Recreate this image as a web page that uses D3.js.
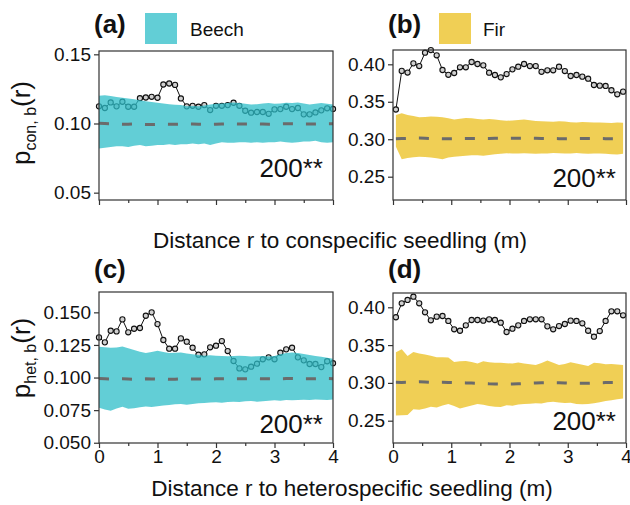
<!DOCTYPE html>
<html><head><meta charset="utf-8">
<script src="https://cdn.jsdelivr.net/npm/d3@7"></script>
<style>body{margin:0;background:#fff;}svg{display:block;font-family:"Liberation Sans",Arial,sans-serif;}</style>
</head><body>
<svg id="chart" width="630" height="505"></svg>
<script>
// ---------- data ----------
const distLeft = [0,0.1,0.2,0.3,0.4,0.5,0.6,0.7,0.8,0.9,1.0,1.1,1.2,1.3,1.4,1.5,1.6,1.7,1.8,1.9,2.0,2.1,2.2,2.3,2.4,2.5,2.6,2.7,2.8,2.9,3.0,3.1,3.2,3.3,3.4,3.5,3.6,3.7,3.8,3.9,4.0];
const distRight = [0.05,0.15,0.25,0.35,0.45,0.55,0.65,0.75,0.85,0.95,1.05,1.15,1.25,1.35,1.45,1.55,1.65,1.75,1.85,1.95,2.05,2.15,2.25,2.35,2.45,2.55,2.65,2.75,2.85,2.95,3.05,3.15,3.25,3.35,3.45,3.55,3.65,3.75,3.85,3.95];

// (a) Beech, conspecific
const beechConObs = [0.1124,0.1112,0.1152,0.1124,0.1157,0.1121,0.1121,0.1183,0.1188,0.1193,0.1186,0.1282,0.1289,0.1279,0.1181,0.1124,0.1128,0.1121,0.1133,0.1097,0.1128,0.1128,0.1133,0.115,0.1128,0.1092,0.1078,0.1083,0.1083,0.107,0.1102,0.1104,0.1121,0.1104,0.1112,0.1066,0.1066,0.108,0.1095,0.111,0.1105];
const beechConHi = [0.1200,0.1205,0.1198,0.1192,0.1186,0.118,0.1175,0.1168,0.116,0.1155,0.115,0.1145,0.114,0.1136,0.1133,0.1125,0.1127,0.1125,0.113,0.1138,0.1142,0.1145,0.1148,0.1152,0.1148,0.1142,0.1138,0.114,0.1145,0.1148,0.1142,0.1145,0.115,0.1148,0.1152,0.1145,0.1138,0.1142,0.1148,0.1142,0.1138];
const beechConLo = [0.082,0.0825,0.083,0.0835,0.0835,0.083,0.084,0.0845,0.0835,0.084,0.0845,0.0845,0.085,0.0845,0.085,0.085,0.0855,0.085,0.0855,0.0845,0.0855,0.0865,0.086,0.086,0.0865,0.0865,0.086,0.0865,0.086,0.0865,0.0865,0.087,0.0865,0.086,0.0865,0.087,0.087,0.0875,0.0865,0.086,0.0865];
const beechConMean = [0.1002,0.1,0.0998,0.0996,0.0995,0.0995,0.0996,0.0994,0.0993,0.0993,0.0994,0.0995,0.0994,0.0994,0.0995,0.0996,0.0996,0.0995,0.0994,0.0994,0.0995,0.0996,0.0997,0.0997,0.0996,0.0996,0.0997,0.0997,0.0996,0.0995,0.0996,0.0997,0.0998,0.0998,0.0997,0.0996,0.0996,0.0997,0.0998,0.0998,0.0998];

// (b) Fir, conspecific
const firConObs = [0.3397,0.3912,0.389,0.4013,0.3977,0.4155,0.419,0.412,0.3924,0.386,0.3884,0.396,0.396,0.4031,0.4004,0.3986,0.3888,0.3857,0.3826,0.387,0.3933,0.3968,0.4004,0.3977,0.3977,0.39,0.392,0.392,0.3968,0.391,0.3844,0.3857,0.3835,0.3808,0.3724,0.3715,0.3711,0.3654,0.36,0.3635];
const firConHi = [0.3323,0.3346,0.3325,0.331,0.3292,0.3298,0.3305,0.33,0.3295,0.328,0.3265,0.3275,0.3285,0.328,0.327,0.3265,0.327,0.3262,0.3255,0.3247,0.325,0.3258,0.3262,0.3255,0.3245,0.324,0.3236,0.3234,0.324,0.3238,0.3228,0.3225,0.323,0.3228,0.3225,0.3222,0.322,0.3218,0.3222,0.322];
const firConLo = [0.290,0.2732,0.2748,0.276,0.2767,0.2762,0.2755,0.2745,0.2732,0.2755,0.2765,0.2772,0.2778,0.2785,0.2785,0.278,0.279,0.2798,0.2805,0.2812,0.281,0.2808,0.2812,0.281,0.2805,0.2808,0.281,0.2815,0.2812,0.2808,0.281,0.2815,0.281,0.2805,0.2808,0.281,0.2805,0.2798,0.2795,0.2805];
const firConMean = [0.3008,0.301,0.3012,0.3015,0.3015,0.3013,0.301,0.3008,0.3007,0.3006,0.3007,0.3008,0.3009,0.301,0.301,0.301,0.3011,0.3012,0.3012,0.3012,0.3013,0.3014,0.3014,0.3013,0.3012,0.3011,0.301,0.3009,0.3008,0.3008,0.3008,0.3009,0.301,0.301,0.301,0.3009,0.3008,0.3007,0.3005,0.3004];

// (c) Beech, heterospecific
const beechHetObs = [0.1308,0.127,0.1359,0.1354,0.1446,0.1347,0.1374,0.138,0.1474,0.150,0.141,0.1288,0.1221,0.1221,0.130,0.1275,0.1229,0.1175,0.1178,0.1232,0.1244,0.128,0.1203,0.1127,0.107,0.1063,0.1083,0.1106,0.114,0.1155,0.114,0.119,0.1216,0.1229,0.1155,0.1132,0.1104,0.1104,0.108,0.1125,0.111];
const beechHetHi = [0.1236,0.1232,0.1228,0.123,0.1238,0.1225,0.1212,0.1198,0.1188,0.1195,0.1205,0.1195,0.1188,0.119,0.1192,0.1185,0.1178,0.1172,0.1168,0.117,0.1168,0.1165,0.1163,0.1165,0.1168,0.1165,0.1162,0.1163,0.1165,0.1162,0.1165,0.1178,0.1188,0.1192,0.1188,0.118,0.1172,0.1165,0.116,0.1152,0.1145];
const beechHetLo = [0.0768,0.0755,0.0745,0.0762,0.0776,0.076,0.0765,0.0772,0.0778,0.0775,0.078,0.0785,0.079,0.0795,0.0797,0.0792,0.0798,0.0802,0.0805,0.0808,0.081,0.0806,0.0812,0.0815,0.0812,0.0818,0.082,0.0815,0.0818,0.0822,0.0825,0.0822,0.0827,0.0825,0.0828,0.083,0.0828,0.0832,0.083,0.0828,0.0832];
const beechHetMean = [0.0992,0.099,0.0988,0.0989,0.099,0.0988,0.0987,0.0988,0.099,0.0989,0.0988,0.0987,0.0986,0.0987,0.0989,0.099,0.0989,0.0988,0.0988,0.0989,0.099,0.0991,0.0991,0.099,0.099,0.0991,0.0992,0.0992,0.0991,0.099,0.099,0.0991,0.0992,0.0992,0.0991,0.099,0.099,0.0991,0.0992,0.0992,0.0991];

// (d) Fir, heterospecific
const firHetObs = [0.3868,0.4053,0.4097,0.414,0.4053,0.3934,0.3828,0.3876,0.3885,0.3819,0.3709,0.369,0.3761,0.3832,0.3832,0.3823,0.3841,0.3832,0.3796,0.3673,0.3717,0.3761,0.3819,0.3841,0.3841,0.3841,0.3748,0.3709,0.3752,0.3779,0.3823,0.3819,0.3788,0.369,0.3611,0.3686,0.3819,0.3947,0.3947,0.3894];
const firHetHi = [0.3404,0.3444,0.3355,0.3408,0.339,0.3375,0.336,0.3338,0.334,0.3335,0.3276,0.3285,0.329,0.3275,0.3258,0.3285,0.3272,0.3265,0.3268,0.326,0.3255,0.327,0.3255,0.3245,0.3236,0.3262,0.3295,0.3265,0.3236,0.325,0.3272,0.3258,0.324,0.3225,0.3268,0.326,0.3248,0.325,0.3242,0.3236];
const firHetLo = [0.257,0.2572,0.2575,0.265,0.2645,0.2662,0.2684,0.2675,0.27,0.272,0.2695,0.2662,0.268,0.2702,0.272,0.271,0.2695,0.2685,0.268,0.2705,0.2698,0.2715,0.272,0.2725,0.2732,0.2728,0.2745,0.275,0.2742,0.2735,0.2738,0.272,0.2718,0.2722,0.273,0.2745,0.2762,0.2772,0.2785,0.2795];
const firHetMean = [0.3007,0.3006,0.3008,0.3012,0.3015,0.3012,0.3008,0.3006,0.3007,0.3006,0.3004,0.3002,0.3,0.2998,0.2995,0.2992,0.2988,0.2986,0.2985,0.2984,0.2985,0.2988,0.2992,0.2996,0.2999,0.3001,0.3002,0.3003,0.3002,0.3,0.2997,0.2995,0.2994,0.2996,0.2999,0.3002,0.3004,0.3005,0.3005,0.3005];

const xTicks = [0,1,2,3,4];
const yTicksA = [0.05,0.10,0.15];
const yTicksB = [0.25,0.30,0.35,0.40];
const yTicksC = [0.050,0.075,0.100,0.125,0.150];
const yTicksD = [0.25,0.30,0.35,0.40];
const panelLabels = ["(a)","(b)","(c)","(d)"];
const speciesNames = ["Beech","Fir"];
const annotation = "200**";
const xTitles = ["Distance r to conspecific seedling (m)","Distance r to heterospecific seedling (m)"];

// ---------- drawing ----------
const svg = d3.select("#chart");
const colBeech = "#2dbdc8", colFir = "#ebbf1c", bandOpacity = 0.75;

const panels = [
  {dist: distLeft, obs: beechConObs, hi: beechConHi, lo: beechConLo, mean: beechConMean, col: colBeech,
   x0: 99, x1: 333, y0: 51, y1: 200, dom: [0.0447, 0.1524], ticks: yTicksA, fmt: ".2f", xLabels: false, label: panelLabels[0], labY: 33, annY: 177},
  {dist: distRight, obs: firConObs, hi: firConHi, lo: firConLo, mean: firConMean, col: colFir,
   x0: 393, x1: 626, y0: 50, y1: 200, dom: [0.2189, 0.4191], ticks: yTicksB, fmt: ".2f", xLabels: false, label: panelLabels[1], labY: 33, annY: 187},
  {dist: distLeft, obs: beechHetObs, hi: beechHetHi, lo: beechHetLo, mean: beechHetMean, col: colBeech,
   x0: 99, x1: 333, y0: 292, y1: 443, dom: [0.0498, 0.1656], ticks: yTicksC, fmt: ".3f", xLabels: true, label: panelLabels[2], labY: 278, annY: 433},
  {dist: distRight, obs: firHetObs, hi: firHetHi, lo: firHetLo, mean: firHetMean, col: colFir,
   x0: 393, x1: 626, y0: 293, y1: 443, dom: [0.2205, 0.4189], ticks: yTicksD, fmt: ".2f", xLabels: true, label: panelLabels[3], labY: 278, annY: 430}
];

panels.forEach(p => {
  const x = d3.scaleLinear().domain([0, 4]).range([p.x0, p.x1]);
  const y = d3.scaleLinear().domain(p.dom).range([p.y1, p.y0]);
  const g = svg.append("g");
  const idx = d3.range(p.dist.length);

  // observed line + points
  g.append("path").datum(idx)
    .attr("fill", "none").attr("stroke", "#111").attr("stroke-width", 1)
    .attr("d", d3.line().x(i => x(p.dist[i])).y(i => y(p.obs[i])));
  g.selectAll("circle.pt").data(idx).join("circle")
    .attr("class", "pt")
    .attr("cx", i => x(p.dist[i])).attr("cy", i => y(p.obs[i])).attr("r", 2.6)
    .attr("fill", "#d0d0d0").attr("stroke", "#111").attr("stroke-width", 1.1);

  // envelope
  g.append("path").datum(idx)
    .attr("fill", p.col).attr("fill-opacity", bandOpacity).attr("stroke", "none")
    .attr("d", d3.area().x(i => x(p.dist[i])).y0(i => y(p.lo[i])).y1(i => y(p.hi[i])));

  // mean dashed
  g.append("path").datum(idx)
    .attr("fill", "none").attr("stroke", "#6b6b6b").attr("stroke-width", 3)
    .attr("stroke-dasharray", "10,13")
    .attr("d", d3.line().x(i => x(p.dist[i])).y(i => y(p.mean[i])));

  // frame
  g.append("rect").attr("x", p.x0).attr("y", p.y0)
    .attr("width", p.x1 - p.x0).attr("height", p.y1 - p.y0)
    .attr("fill", "none").attr("stroke", "#333").attr("stroke-width", 1.2);

  // y axis
  const ya = d3.axisLeft(y).tickValues(p.ticks).tickFormat(d3.format(p.fmt)).tickSize(5).tickPadding(3);
  const yg = g.append("g").attr("transform", `translate(${p.x0},0)`).call(ya);
  yg.select(".domain").remove();
  yg.selectAll("line").attr("stroke", "#333").attr("stroke-width", 1.2);
  yg.selectAll("text").attr("font-size", 19).attr("fill", "#111").attr("font-family", "Liberation Sans, Arial, sans-serif");

  // x axis major
  const xa = d3.axisBottom(x).tickValues(xTicks).tickSize(5).tickPadding(2)
    .tickFormat(p.xLabels ? d3.format("d") : () => "");
  const xg = g.append("g").attr("transform", `translate(0,${p.y1})`).call(xa);
  xg.select(".domain").remove();
  xg.selectAll("line").attr("stroke", "#333").attr("stroke-width", 1.2);
  xg.selectAll("text").attr("font-size", 19).attr("fill", "#111").attr("font-family", "Liberation Sans, Arial, sans-serif");
  // minor
  const xm = d3.axisBottom(x).tickValues([0.5, 1.5, 2.5, 3.5]).tickSize(3).tickFormat(() => "");
  const xmg = g.append("g").attr("transform", `translate(0,${p.y1})`).call(xm);
  xmg.select(".domain").remove();
  xmg.selectAll("line").attr("stroke", "#333").attr("stroke-width", 1.2);

  // panel label
  svg.append("text").attr("x", p.x0 - 5).attr("y", p.labY)
    .attr("font-size", 26).attr("font-weight", "bold").attr("fill", "#111").text(p.label);

  // annotation
  svg.append("text").attr("x", p.x1 - 10).attr("y", p.annY).attr("text-anchor", "end")
    .attr("font-size", 26).attr("fill", "#111").text(annotation);
});

// legend
[[speciesNames[0], colBeech, 145, 190], [speciesNames[1], colFir, 439, 483]].forEach(([name, col, rx, tx]) => {
  svg.append("rect").attr("x", rx).attr("y", 13).attr("width", 32).attr("height", 31)
    .attr("fill", col).attr("fill-opacity", bandOpacity);
  svg.append("text").attr("x", tx).attr("y", 36).attr("font-size", 19).attr("fill", "#111").text(name);
});

// x titles
svg.append("text").attr("x", 340).attr("y", 248).attr("text-anchor", "middle")
  .attr("font-size", 22.5).attr("fill", "#111").text(xTitles[0]);
svg.append("text").attr("x", 352).attr("y", 496).attr("text-anchor", "middle")
  .attr("font-size", 22.5).attr("fill", "#111").text(xTitles[1]);

// y titles
function yTitle(cx, cy, sub) {
  const t = svg.append("text").attr("transform", `translate(${cx},${cy}) rotate(-90)`)
    .attr("text-anchor", "middle").attr("font-size", 26).attr("fill", "#111");
  t.append("tspan").text("p");
  t.append("tspan").attr("font-size", 16).attr("dy", 6).text(sub);
  t.append("tspan").attr("dy", -6).text("(r)");
}
yTitle(30, 123, "con, b");
yTitle(30, 358, "het, b");
</script>
</body></html>
